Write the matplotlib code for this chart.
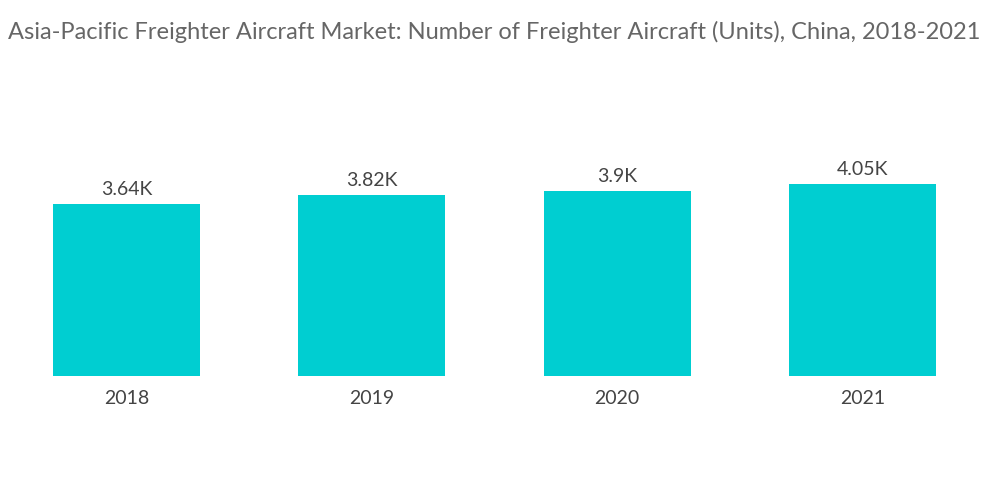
import matplotlib
matplotlib.use('Agg')
import matplotlib.pyplot as plt

# Данные графика
years = ['2018', '2019', '2020', '2021']
values = [3.64, 3.82, 3.9, 4.05]
labels = ['3.64K', '3.82K', '3.9K', '4.05K']

plt.rcParams['font.family'] = ['Lato', 'DejaVu Sans']

fig = plt.figure(figsize=(10, 5.04), dpi=100)
ax = fig.add_axes([0.004, 128 / 504, 0.981, 284 / 504])

bars = ax.bar(range(len(years)), values, width=0.6, color='#00CED1')
for i, b in enumerate(bars):
	ax.text(b.get_x() + b.get_width() / 2, b.get_height() + 0.13, labels[i],
		ha='center', va='bottom', fontsize=14, color='#444444')

ax.set_xlim(-0.5, 3.5)
ax.set_ylim(0, 6)
ax.set_xticks(range(len(years)))
ax.set_xticklabels(years, fontsize=14, color='#444444')
ax.tick_params(axis='x', length=0, pad=10)
ax.set_yticks([])
for s in ax.spines.values():
	s.set_visible(False)

fig.text(0.008, 1 - 32 / 504, 'Asia-Pacific Freighter Aircraft Market: Number of Freighter Aircraft (Units), China, 2018-2021',
	ha='left', va='center', fontsize=17, color='#666666')

fig.savefig('out.png', dpi=100)
